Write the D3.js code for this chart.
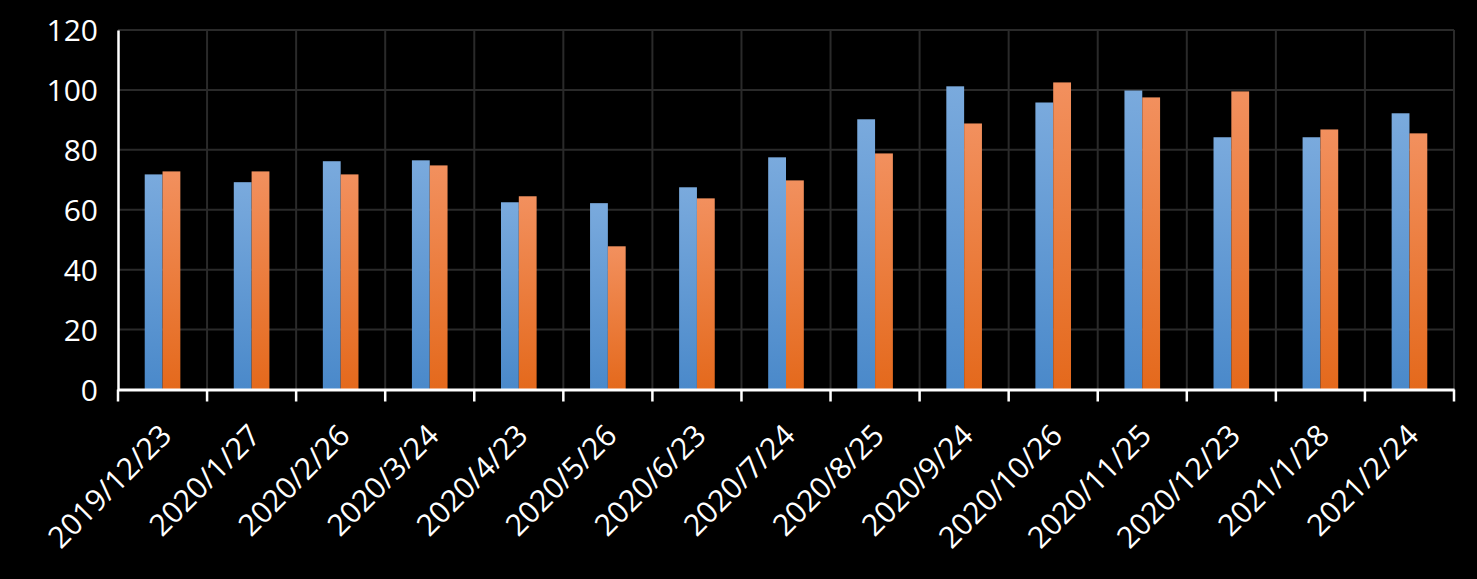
<!DOCTYPE html>
<html><head><meta charset="utf-8">
<script src="https://cdn.jsdelivr.net/npm/d3@7"></script>
<style>html,body{margin:0;padding:0;background:#000;overflow:hidden}</style>
</head><body>
<svg id="chart" width="1477" height="579"></svg>
<script>
const categories = ["2019/12/23","2020/1/27","2020/2/26","2020/3/24","2020/4/23","2020/5/26","2020/6/23","2020/7/24","2020/8/25","2020/9/24","2020/10/26","2020/11/25","2020/12/23","2021/1/28","2021/2/24"];
const seriesA = [71.8,69.2,76.2,76.5,62.5,62.2,67.5,77.5,90.2,101.2,95.8,99.8,84.2,84.2,92.2];
const seriesB = [72.8,72.8,71.8,74.8,64.5,47.8,63.8,69.8,78.8,88.8,102.5,97.5,99.5,86.8,85.5];
const yTicks = [0,20,40,60,80,100,120];

(function(){
const svg = d3.select("#chart");
svg.append("rect").attr("width",1477).attr("height",579).attr("fill","#000");
const mLeft = 118, mRight = 1454, mTop = 30, mBottom = 389.5;
const x = d3.scaleBand().domain(categories).range([mLeft,mRight]).paddingInner(0).paddingOuter(0);
const inner = d3.scaleBand().domain([0,1]).range([0,x.bandwidth()]).paddingInner(0).paddingOuter(1.5);
const y = d3.scaleLinear().domain([0,120]).range([mBottom,mTop]);

const defs = svg.append("defs");
function grad(id, c1, c2){
  const g = defs.append("linearGradient").attr("id",id).attr("x1",0).attr("y1",0).attr("x2",0).attr("y2",1);
  g.append("stop").attr("offset","0%").attr("stop-color",c1);
  g.append("stop").attr("offset","100%").attr("stop-color",c2);
}
grad("gBlue","#7aaadd","#4a89ca");
grad("gOrange","#f2905e","#e4691c");

const font = "'Open Sans', 'Noto Sans', sans-serif";

// grid
const grid = svg.append("g").attr("stroke","#2a2a2a").attr("stroke-width",2);
grid.selectAll("line.h").data(yTicks.filter(d=>d>0)).join("line")
  .attr("x1",mLeft).attr("x2",mRight).attr("y1",d=>y(d)).attr("y2",d=>y(d));
const bounds = categories.map(c=>x(c)).concat([mRight]).slice(1);
grid.selectAll("line.v").data(bounds).join("line")
  .attr("x1",d=>d).attr("x2",d=>d).attr("y1",mTop).attr("y2",mBottom);

// bars
const series = [{vals:seriesA, fill:"url(#gBlue)"},{vals:seriesB, fill:"url(#gOrange)"}];
series.forEach((s,si)=>{
  svg.append("g").selectAll("rect").data(categories).join("rect")
    .attr("x",(c)=>x(c)+inner(si))
    .attr("width",inner.bandwidth())
    .attr("y",(c,i)=>y(s.vals[i]))
    .attr("height",(c,i)=>y(0)-y(s.vals[i]))
    .attr("fill",s.fill);
});

// y axis
const yAxis = d3.axisLeft(y).tickValues(yTicks).tickSize(0).tickPadding(20);
const ya = svg.append("g").attr("transform",`translate(${mLeft},0)`).call(yAxis);
ya.select(".domain").attr("stroke","#fff").attr("stroke-width",2.5);
ya.selectAll("text").attr("fill","#fff").style("font-family",font).style("font-size","30px").attr("dy","0.35em");

// x axis
const xAxis = d3.axisBottom(x).tickSize(0).tickFormat("");
const xa = svg.append("g").attr("transform",`translate(0,${mBottom})`).call(xAxis);
xa.select(".domain").attr("stroke","#fff").attr("stroke-width",3);
xa.selectAll(".tick").remove();
xa.selectAll("line.t").data([mLeft].concat(bounds)).join("line")
  .attr("x1",d=>d).attr("x2",d=>d).attr("y1",0).attr("y2",12)
  .attr("stroke","#fff").attr("stroke-width",2.5);
xa.selectAll("text.lbl").data(categories).join("text")
  .attr("class","lbl")
  .attr("transform",c=>`translate(${x(c)+x.bandwidth()/2-4},${33}) rotate(-45)`)
  .attr("text-anchor","end")
  .attr("dy","0.7em")
  .attr("fill","#fff")
  .style("font-family",font)
  .style("font-size","30px")
  .text(c=>c);
})();
</script>
</body></html>
